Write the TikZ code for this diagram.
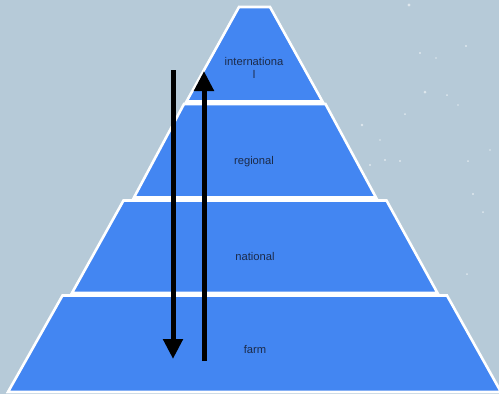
\documentclass[tikz,border=0pt]{standalone}
\usepackage{fontspec}
\setmainfont{Liberation Sans}
\usetikzlibrary{arrows.meta}
\definecolor{bg}{HTML}{B6CAD8}
\definecolor{tierblue}{HTML}{4386F2}
\definecolor{labelink}{HTML}{1C2B4A}
\begin{document}
\begin{tikzpicture}[x={(1pt,0)}, y={(0,-1pt)},
  tier/.style={fill=tierblue, draw=white, line width=2.6pt, line join=miter},
  lbl/.style={text=labelink, font=\fontsize{11.2}{12.5}\selectfont, align=center, inner sep=0pt},
  speck/.style={fill=white, opacity=0.55},
  bigarrow/.style={draw=black, line width=5pt, -{Triangle[width=19pt,length=20pt]}}]
\useasboundingbox (0,0) rectangle (499,394);
\fill[bg] (0,0) rectangle (499,394);
% background speckles
\foreach \px/\py/\r in {409/5/1.6, 420/53/1.1, 466/46/1.1, 425/92/1.5, 362/125/1.4, 405/114/1.0,
  385/160/1.2, 400/161/1.1, 370/165/1.2, 468/161/1.0, 483/212/1.0, 473/194/1.2, 467/274/1.0,
  436/58/0.9, 447/95/1.0, 458/105/0.9, 380/140/0.8, 490/150/0.8}
  \fill[speck] (\px,\py) circle (\r);
% pyramid tiers
\draw[tier] (239,7) -- (270,7) -- (322.5,101.5) -- (186.5,101.5) -- cycle;
\draw[tier] (184,104) -- (325.5,104) -- (376,197.5) -- (134,197.5) -- cycle;
\draw[tier] (123.5,200.5) -- (386.5,200.5) -- (437.5,293) -- (72,293) -- cycle;
\draw[tier] (62.5,295.5) -- (447,295.5) -- (501,392) -- (8,392) -- cycle;
% labels
\node[lbl] (intl) at (254,68) {internationa\\l};
\node[lbl] (reg) at (254,162) {regional};
\node[lbl] (nat) at (255,256) {national};
\node[lbl] (farm) at (255,349) {farm};
% arrows
\coordinate (downstart) at (173,70);
\coordinate (downend) at (173,359);
\coordinate (upstart) at (204,361);
\coordinate (upend) at (204,71);
\draw[bigarrow] (downstart) -- (downend);
\draw[bigarrow] (upstart) -- (upend);
\end{tikzpicture}
\end{document}
